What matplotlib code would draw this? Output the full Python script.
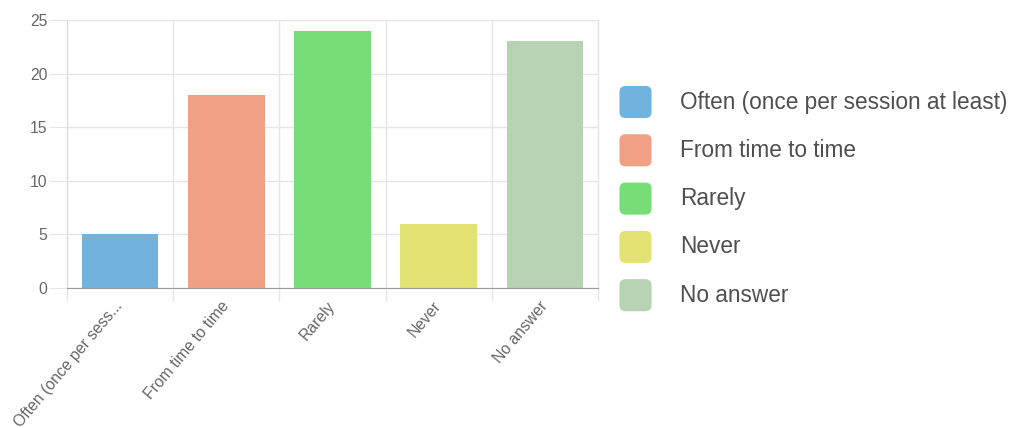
import matplotlib
matplotlib.use("Agg")
import matplotlib.pyplot as plt
from matplotlib.patches import FancyBboxPatch
import numpy as np

categories = ["Often (once per session at least)", "From time to time", "Rarely", "Never", "No answer"]
tick_labels = ["Often (once per sess...", "From time to time", "Rarely", "Never", "No answer"]
values = [5, 18, 24, 6, 23]
colors = ["#72b3de", "#f0a085", "#77de77", "#e3e374", "#b8d3b4"]

plt.rcParams['font.family'] = ['Liberation Sans', 'DejaVu Sans']

W, H = 1013, 428
fig = plt.figure(figsize=(W / 100, H / 100), dpi=100)
x0, x1, y0, y1 = 67, 598, 20, 288
ax = fig.add_axes([x0 / W, 1 - y1 / H, (x1 - x0) / W, (y1 - y0) / H])

x = np.arange(len(values))
ax.bar(x, values, width=0.72, color=colors, zorder=2)
ax.set_xlim(-0.5, len(values) - 0.5)
ax.set_ylim(0, 25)
ax.set_yticks([0, 5, 10, 15, 20, 25])

grid_c = "#e5e5e5"
for b in np.arange(-0.5, len(values), 1.0):
    ax.plot([b, b], [0, 25], color=grid_c, lw=1, zorder=1, clip_on=False)
    ax.plot([b, b], [0, -12 / (y1 - y0) * 25], color=grid_c, lw=1, zorder=1, clip_on=False)
ax.yaxis.grid(True, color=grid_c, lw=1, zorder=0)
ax.set_axisbelow(True)

for s in ["top", "right"]:
    ax.spines[s].set_visible(False)
ax.spines["left"].set_color("#dcdcdc")
ax.spines["bottom"].set_color("#9a9a9a")
ax.spines["bottom"].set_zorder(3)

ax.tick_params(axis="y", length=13, color=grid_c, labelcolor="#666666", labelsize=11.3, pad=1)
ax.tick_params(axis="x", length=0, labelcolor="#666666", labelsize=11.3, pad=11)
ax.set_xticks(x)
ax.set_xticklabels(tick_labels, rotation=50, ha="right", va="center", rotation_mode="anchor")

lx, lw_, ly0, dy = 620, 31, 102, 48.3
for i, (lab, c) in enumerate(zip(categories, colors)):
    cy = ly0 + i * dy
    p = FancyBboxPatch(((lx + 3) / W, 1 - (cy + lw_ / 2 - 3) / H), (lw_ - 6) / W, (lw_ - 6) / H,
                       boxstyle="round,pad=0.0035,rounding_size=0.006",
                       transform=fig.transFigure, facecolor=c, edgecolor="none",
                       mutation_aspect=W / H)
    fig.patches.append(p)
    fig.text(680 / W, 1 - cy / H, lab, fontsize=16.3, color="#4f4f4f", va="center", ha="left")

fig.savefig("out.png", dpi=100)
